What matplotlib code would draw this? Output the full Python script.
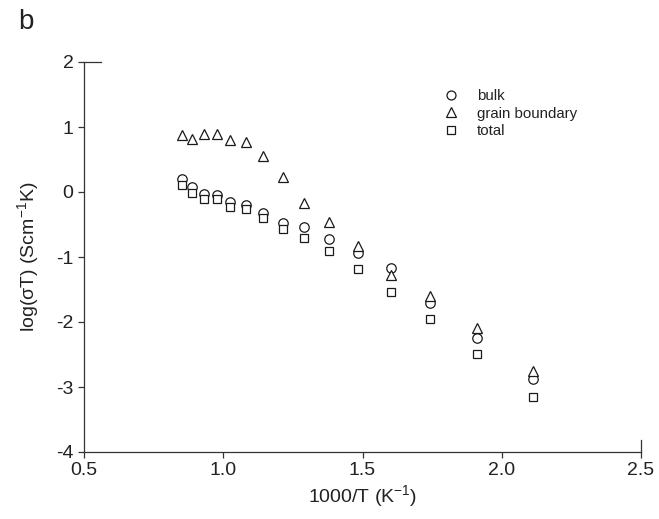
import matplotlib
matplotlib.use("Agg")
import matplotlib.pyplot as plt

plt.rcParams['font.family'] = ['Liberation Sans', 'DejaVu Sans']
plt.rcParams['mathtext.fontset'] = 'custom'
plt.rcParams['mathtext.rm'] = 'Liberation Sans'
plt.rcParams['mathtext.it'] = 'Liberation Sans:italic'
plt.rcParams['axes.unicode_minus'] = False

# 1000/T (K^-1)
x_vals = [0.853, 0.889, 0.931, 0.976, 1.025, 1.081, 1.144, 1.213, 1.291, 1.380,
          1.485, 1.604, 1.744, 1.910, 2.113]
bulk = [0.20, 0.08, -0.03, -0.05, -0.16, -0.20, -0.32, -0.47, -0.54, -0.73,
        -0.94, -1.17, -1.71, -2.25, -2.87]
grain_boundary = [0.88, 0.815, 0.90, 0.89, 0.805, 0.775, 0.555, 0.235, -0.175, -0.465,
                  -0.83, -1.27, -1.60, -2.09, -2.75]
total = [0.105, -0.01, -0.10, -0.11, -0.225, -0.265, -0.405, -0.565, -0.71, -0.91,
         -1.19, -1.535, -1.96, -2.49, -3.155]

series_labels = ['bulk', 'grain boundary', 'total']
x_ticks = [0.5, 1.0, 1.5, 2.0, 2.5]
x_tick_labels = ['0.5', '1.0', '1.5', '2.0', '2.5']
y_ticks = [-4, -3, -2, -1, 0, 1, 2]
y_tick_labels = ['-4', '-3', '-2', '-1', '0', '1', '2']

fig = plt.figure(figsize=(6.59, 5.19), dpi=100)
ax = fig.add_axes([84 / 659, (519 - 452) / 519, 557 / 659, 390 / 519])

ec = '#1a1a1a'
mk = dict(linestyle='none', markerfacecolor='white', markeredgecolor=ec, markeredgewidth=0.9)
ax.plot(x_vals, bulk, marker='o', markersize=6.8, label=series_labels[0], **mk)
ax.plot(x_vals, grain_boundary, marker='^', markersize=7.0, label=series_labels[1], **mk)
ax.plot(x_vals, total, marker='s', markersize=6.2, label=series_labels[2], **mk)

ax.set_xlim(0.5, 2.5)
ax.set_ylim(-4, 2)
ax.set_xticks(x_ticks)
ax.set_xticklabels(x_tick_labels)
ax.set_yticks(y_ticks)
ax.set_yticklabels(y_tick_labels)

for s in ['top', 'right']:
    ax.spines[s].set_visible(False)
for s in ['left', 'bottom']:
    ax.spines[s].set_linewidth(0.9)
    ax.spines[s].set_color('#333333')
ax.tick_params(direction='out', length=4.5, width=0.9, color='#333333',
               labelsize=14, labelcolor='#222222', pad=3)

# end stubs of the axis frame
ax.axhline(2, xmin=0, xmax=0.03, color='#333333', lw=0.9, clip_on=False)
ax.axvline(2.5, ymin=0, ymax=0.03, color='#333333', lw=0.9, clip_on=False)

ax.set_xlabel('1000/T (K$^{-1}$)', fontsize=14, color='#222222', labelpad=3)
ax.set_ylabel('log(σT) (Scm$^{-1}$K)', fontsize=14, color='#222222', labelpad=11)

leg = ax.legend(loc='upper left', bbox_to_anchor=(0.646, 0.93), frameon=False,
                fontsize=10.8, numpoints=1, handlelength=1.0, handletextpad=1.2,
                labelspacing=0.22, borderpad=0, borderaxespad=0, markerscale=0.95)
for t in leg.get_texts():
    t.set_color('#222222')

fig.text(18 / 659, 1 - 22 / 519, 'b', fontsize=20, color='#222222', va='center', ha='left')

fig.savefig('out.png', dpi=100)
